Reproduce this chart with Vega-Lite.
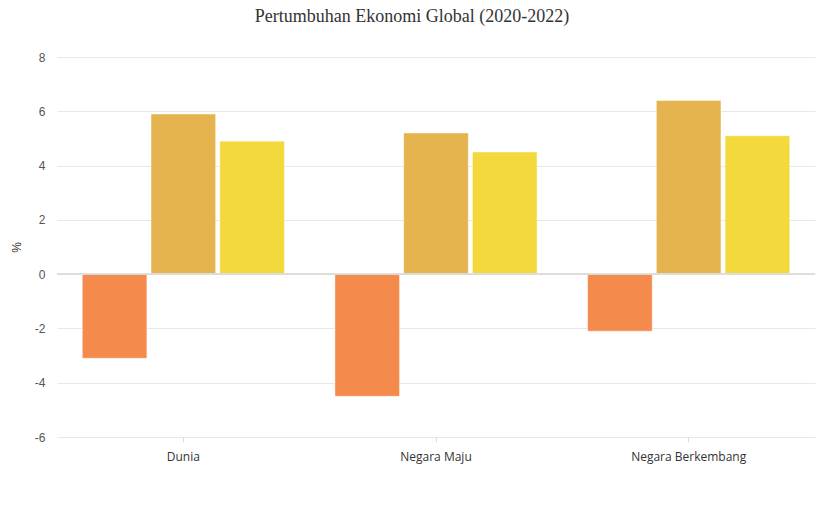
{
  "$schema": "https://vega.github.io/schema/vega-lite/v6.json",
  "width": 758,
  "height": 380,
  "autosize": {"type": "none"},
  "padding": {"left": 57, "top": 57, "right": 16, "bottom": 81},
  "background": "white",
  "title": {
    "text": "Pertumbuhan Ekonomi Global (2020-2022)",
    "font": "Liberation Serif",
    "fontSize": 18,
    "fontWeight": "normal",
    "color": "#333333",
    "anchor": "middle",
    "dx": -24,
    "offset": 25
  },
  "data": {
    "values": [
      {"kategori": "Dunia", "tahun": "2020", "nilai": -3.1},
      {"kategori": "Dunia", "tahun": "2021", "nilai": 5.9},
      {"kategori": "Dunia", "tahun": "2022", "nilai": 4.9},
      {"kategori": "Negara Maju", "tahun": "2020", "nilai": -4.5},
      {"kategori": "Negara Maju", "tahun": "2021", "nilai": 5.2},
      {"kategori": "Negara Maju", "tahun": "2022", "nilai": 4.5},
      {"kategori": "Negara Berkembang", "tahun": "2020", "nilai": -2.1},
      {"kategori": "Negara Berkembang", "tahun": "2021", "nilai": 6.4},
      {"kategori": "Negara Berkembang", "tahun": "2022", "nilai": 5.1}
    ]
  },
  "config": {
    "view": {"stroke": null},
    "axis": {"labelFont": "Liberation Sans", "titleFont": "Liberation Sans"}
  },
  "layer": [
    {
      "mark": {"type": "bar", "strokeWidth": 1, "stroke": "#ffffff", "strokeOpacity": 0.45},
      "encoding": {
        "x": {
          "field": "kategori",
          "type": "nominal",
          "sort": ["Dunia", "Negara Maju", "Negara Berkembang"],
          "scale": {"paddingInner": 0.2, "paddingOuter": 0.1},
          "axis": {
            "title": null,
            "labelAngle": 0,
            "labelFont": "Open Sans",
            "labelFontSize": 12,
            "labelColor": "#333333",
            "labelPadding": 9,
            "domain": false,
            "ticks": true,
            "tickSize": 5,
            "tickColor": "#dddddd",
            "grid": false
          }
        },
        "xOffset": {
          "field": "tahun",
          "type": "nominal",
          "scale": {"paddingInner": 0.06}
        },
        "y": {
          "field": "nilai",
          "type": "quantitative",
          "scale": {"domain": [-6, 8], "nice": false},
          "axis": {
            "title": "%",
            "titleFontSize": 12,
            "titleFontWeight": "normal",
            "titleColor": "#333333",
            "titlePadding": 11,
            "values": [-6, -4, -2, 0, 2, 4, 6, 8],
            "labelExpr": "'' + datum.value",
            "labelFontSize": 12,
            "labelColor": "#555555",
            "labelPadding": 12,
            "domain": false,
            "ticks": false,
            "grid": true,
            "gridColor": "#e8e8e8",
            "gridWidth": 1
          }
        },
        "color": {
          "field": "tahun",
          "type": "nominal",
          "scale": {"domain": ["2020", "2021", "2022"], "range": ["#F48B4D", "#E6B44F", "#F3D93B"]},
          "legend": null
        }
      }
    },
    {
      "mark": {"type": "rule", "color": "#dcdcdc", "strokeWidth": 1},
      "encoding": {"y": {"datum": 0}}
    }
  ]
}
